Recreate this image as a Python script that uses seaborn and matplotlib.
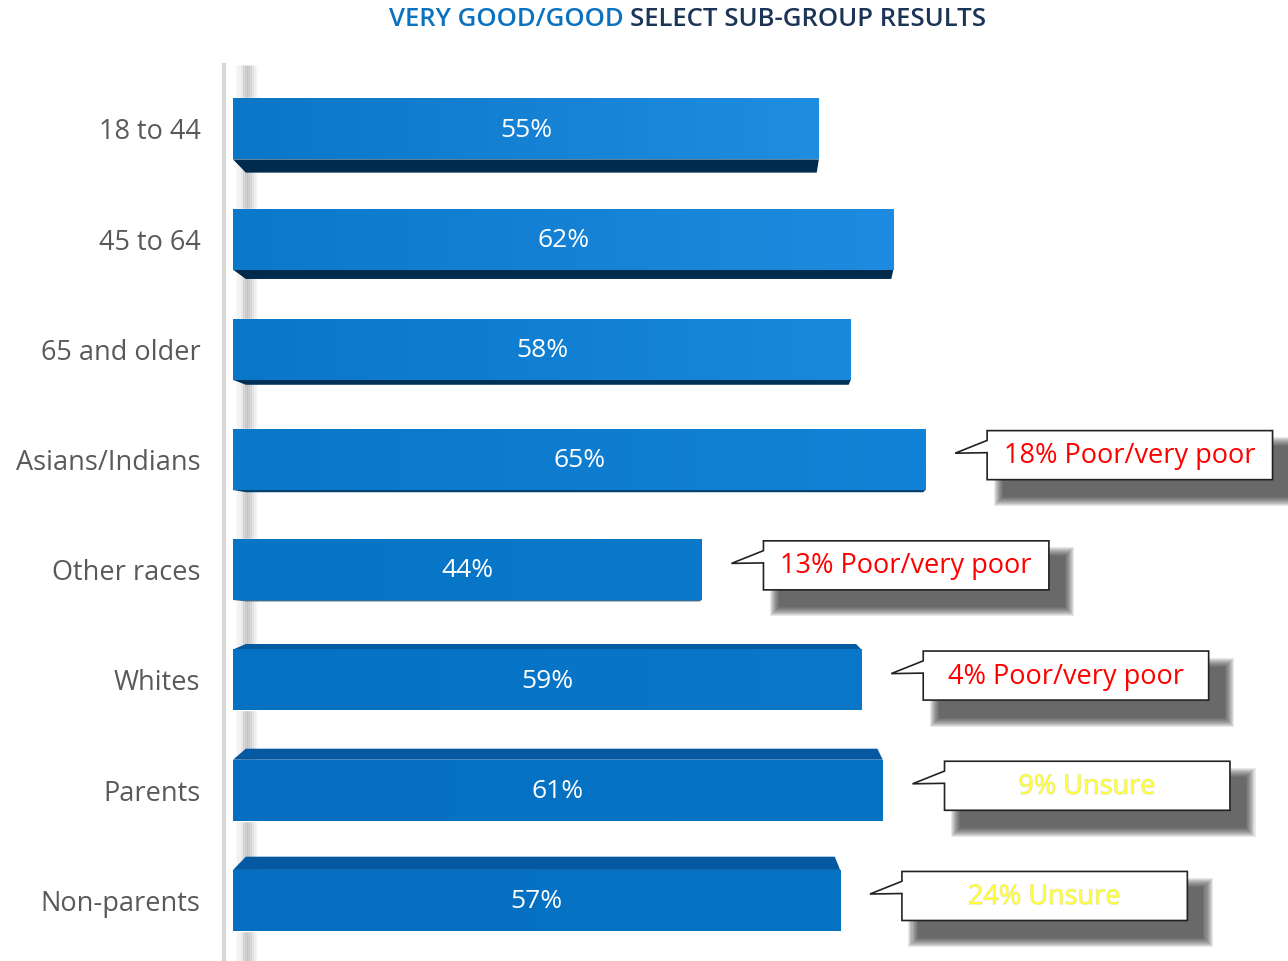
import numpy as np
import seaborn as sns
import matplotlib
matplotlib.use('Agg')
from matplotlib import pyplot as plt
from matplotlib import patheffects as pe
from matplotlib.colors import LinearSegmentedColormap
from matplotlib.patches import Polygon, Rectangle

# data
groups = ['18 to 44', '45 to 64', '65 and older', 'Asians/Indians',
          'Other races', 'Whites', 'Parents', 'Non-parents']
values = [55, 62, 58, 65, 44, 59, 61, 57]
notes = [None, None, None, '18% Poor/very poor', '13% Poor/very poor',
         '4% Poor/very poor', '9% Unsure', '24% Unsure']
note_colors = [None, None, None, '#ff0000', '#ff0000', '#ff0000',
               '#ffff33', '#ffff33']

# left / right shade of each bar (gradient)
bar_colors = ['#0a76c8', '#0b78c9', '#0a76c8', '#0a77c9',
              '#0774c6', '#0571c3', '#0570c2', '#0570c2']
bar_colors_r = ['#1f8de0', '#1e8be0', '#1889db', '#1283d6',
                '#0a79ca', '#0a77c9', '#0673c5', '#0672c4']
# 3d edge depth (data units), + below the face, - above
depth = [0.12, 0.085, 0.045, 0.02, 0.01, -0.05, -0.10, -0.12]
edge_colors = ['#002b4d', '#002b4d', '#003257', '#004070', '#004070',
               '#0559a0', '#0559a0', '#0559a0']

sns.set_style('white')
plt.rcParams['font.family'] = ['Open Sans', 'DejaVu Sans']

fig = plt.figure(figsize=(12.88, 9.61), dpi=100)
ax = fig.add_axes([224 / 1288, 0, 1064 / 1288, (961 - 65) / 961])

bw = 0.553
sns.barplot(x=values, y=groups, hue=groups, palette=bar_colors, legend=False,
            width=bw, saturation=1, ax=ax, zorder=3)

# horizontal gradient on each bar face
grad = np.linspace(0, 1, 256).reshape(1, -1)
for i, patch in enumerate(ax.patches[:len(values)]):
    cmap = LinearSegmentedColormap.from_list('b%d' % i,
                                             [bar_colors[i], bar_colors_r[i]])
    x0, y0 = patch.get_x(), patch.get_y()
    im = ax.imshow(grad, cmap=cmap, aspect='auto', zorder=3.5,
                   extent=(x0, x0 + patch.get_width(),
                           y0 + patch.get_height(), y0))
    im.set_clip_path(patch)

ax.set_xlim(-0.85, 99.05)
ax.set_ylim(7.55, -0.58)

# soft shadow strip along the bar starts
prof = [0.03, 0.06, 0.10, 0.15, 0.18, 0.18, 0.15, 0.10, 0.06, 0.03]
for k, a in enumerate(prof):
    ax.plot([0.4 + k * 0.2] * 2, [-0.58, 7.55], color='#444444', lw=2.4,
            alpha=a, zorder=1, solid_capstyle='butt')

for i, (v, d) in enumerate(zip(values, depth)):
    top, bot = i - bw / 2, i + bw / 2
    if d > 0:
        pts = [(0, bot), (v, bot), (v - 0.2, bot + d), (1.2, bot + d)]
    else:
        pts = [(0, top), (v, top), (v - 0.5, top + d), (1.2, top + d)]
    ax.add_patch(Polygon(pts, closed=True, facecolor=edge_colors[i],
                         edgecolor='none', zorder=3))
    ax.text(v / 2, i + 0.01, f'{v}%', ha='center', va='center', color='white',
            fontsize=19, zorder=5)

# callouts
bh, bwid = 0.445, 26.8
for i, (v, note, c) in enumerate(zip(values, notes, note_colors)):
    if note is None:
        continue
    left = v + 5.8
    cy = i - 0.04
    T, B = cy - bh / 2, cy + bh / 2
    # blurred drop shadow
    for k in range(10):
        sx, sy = 0.9 - k * 0.1, 0.09 - k * 0.009
        ax.add_patch(Rectangle((left + 1.5 - sx, T + 0.15 - sy),
                               bwid + 2 * sx, bh + 2 * sy,
                               facecolor='#222222', edgecolor='none',
                               alpha=0.10, zorder=2))
    outline = [(left, T), (left + bwid, T), (left + bwid, B), (left, B),
               (left, T + 0.45 * bh), (left - 3.0, T + 0.46 * bh),
               (left, T + 0.2 * bh)]
    ax.add_patch(Polygon(outline, closed=True, facecolor='white',
                         edgecolor='#222222', lw=1.2, zorder=4))
    t = ax.text(left + bwid / 2, cy + 0.01, note, ha='center', va='center',
                color=c, fontsize=19.5, zorder=5)
    if c == '#ffff33':
        t.set_path_effects([pe.withStroke(linewidth=0.9, foreground='#e4e4cc')])

ax.set_xlabel('')
ax.set_ylabel('')
ax.set_xticks([])
ax.tick_params(axis='y', length=0, pad=17, labelsize=19.5, labelcolor='#595959')
for s in ['top', 'right', 'bottom']:
    ax.spines[s].set_visible(False)
ax.spines['left'].set_color('#d6d6d6')
ax.spines['left'].set_linewidth(3)

fig.text(624 / 1288, 1 - 19 / 961, 'VERY GOOD/GOOD', ha='right', va='center',
         color='#0b72c0', fontsize=18.5, fontweight='semibold')
fig.text(630 / 1288, 1 - 19 / 961, 'SELECT SUB-GROUP RESULTS', ha='left',
         va='center', color='#1c3557', fontsize=18.5, fontweight='semibold')

fig.savefig('out.png', dpi=100)
